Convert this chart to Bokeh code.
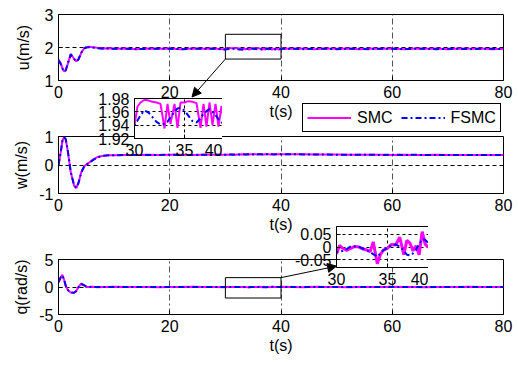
from bokeh.plotting import figure
from bokeh.models import (Range1d, FixedTicker, CustomJSTickFormatter, Legend, LegendItem,
                          Arrow, NormalHead, GridBox, ColumnDataSource)
from bokeh.embed import file_html
from bokeh.resources import INLINE

# ---------------- data ----------------
t = [0, 0.4, 0.7, 1.0, 1.3, 1.7, 2.2, 2.8, 3.2, 3.6, 4.1, 4.6, 5.0, 5.5, 6.1, 7.0, 8.0, 9.0, 10, 12,
     14, 16, 18, 20, 22, 24, 26, 28,
     30.0, 30.3, 30.6, 31.0, 31.4, 31.8, 32.2, 32.6, 33.0, 33.3, 33.6, 34.0, 34.3, 34.6, 35.0, 35.4,
     35.8, 36.2, 36.6, 36.9, 37.2, 37.5, 37.8, 38.1, 38.4, 38.7, 39.0, 39.3, 39.6, 40.0,
     42, 44, 46, 48, 50, 52, 54, 56, 58, 60, 62, 64, 66, 68, 70, 72, 74, 76, 78, 80]

u_smc = [1.63, 1.52, 1.38, 1.28, 1.30, 1.52, 1.80, 1.66, 1.58, 1.64, 1.84, 1.97, 2.01, 2.02, 2.01, 1.99,
         1.97, 1.98, 1.96, 1.97, 1.95, 1.97, 1.96, 1.97, 1.95, 1.97, 1.96, 1.97,
         1.940, 1.968, 1.974, 1.978, 1.977, 1.975, 1.974, 1.972, 1.935, 1.972, 1.942, 1.972, 1.936, 1.974,
         1.974, 1.976, 1.975, 1.973, 1.936, 1.972, 1.938, 1.974, 1.940, 1.972, 1.938, 1.969, 1.940, 1.970,
         1.935, 1.968,
         1.96, 1.97, 1.95, 1.97, 1.96, 1.97, 1.95, 1.97, 1.96, 1.97, 1.95, 1.97, 1.96, 1.97, 1.95, 1.97,
         1.96, 1.97, 1.95, 1.96]
u_fsmc = [1.62, 1.50, 1.36, 1.27, 1.31, 1.53, 1.79, 1.65, 1.57, 1.65, 1.85, 1.97, 2.00, 2.01, 2.00, 1.98,
          1.96, 1.97, 1.96, 1.96, 1.95, 1.96, 1.96, 1.96, 1.95, 1.96, 1.96, 1.96,
          1.940, 1.947, 1.955, 1.962, 1.959, 1.952, 1.945, 1.941, 1.942, 1.945, 1.952, 1.960, 1.965, 1.966,
          1.962, 1.954, 1.946, 1.944, 1.950, 1.957, 1.961, 1.964, 1.960, 1.955, 1.949, 1.944, 1.944, 1.946,
          1.954, 1.958,
          1.96, 1.95, 1.96, 1.96, 1.95, 1.96, 1.96, 1.95, 1.96, 1.96, 1.95, 1.96, 1.96, 1.95, 1.96, 1.96,
          1.95, 1.96, 1.96, 1.95]

w_smc = [0.00, 0.45, 0.85, 0.98, 0.90, 0.45, -0.25, -0.72, -0.81, -0.62, -0.25, -0.05, 0.02, 0.08, 0.17,
         0.28, 0.32, 0.34, 0.34, 0.35, 0.35, 0.36, 0.35, 0.36, 0.36, 0.35, 0.36, 0.36,
         0.36, 0.37, 0.36, 0.37, 0.37, 0.36, 0.37, 0.37, 0.38, 0.37, 0.37, 0.38, 0.37, 0.38, 0.38, 0.38,
         0.37, 0.38, 0.38, 0.37, 0.38, 0.38, 0.38, 0.37, 0.38, 0.38, 0.37, 0.38, 0.38, 0.38,
         0.38, 0.38, 0.37, 0.37, 0.37, 0.36, 0.36, 0.36, 0.36, 0.35, 0.36, 0.35, 0.35, 0.36, 0.35, 0.35,
         0.35, 0.35, 0.35, 0.35]
w_fsmc = [0.00, 0.44, 0.84, 0.97, 0.91, 0.46, -0.24, -0.71, -0.80, -0.63, -0.26, -0.06, 0.01, 0.07, 0.16,
          0.27, 0.32, 0.34, 0.34, 0.35, 0.35, 0.35, 0.35, 0.36, 0.35, 0.35, 0.36, 0.36,
          0.36, 0.36, 0.37, 0.37, 0.36, 0.37, 0.37, 0.37, 0.37, 0.38, 0.37, 0.38, 0.38, 0.38, 0.37, 0.38,
          0.38, 0.38, 0.37, 0.38, 0.38, 0.38, 0.37, 0.38, 0.38, 0.37, 0.38, 0.38, 0.38, 0.38,
          0.38, 0.37, 0.37, 0.37, 0.36, 0.36, 0.36, 0.36, 0.35, 0.36, 0.35, 0.36, 0.35, 0.35, 0.35, 0.35,
          0.35, 0.35, 0.35, 0.35]

q_smc = [0.9, 1.8, 2.2, 1.3, 0.2, -0.6, -1.0, -1.05, -0.7, 0.0, 0.6, 0.3, 0.05, 0.0, 0.05, -0.03, 0.02,
         0.0, 0.03, -0.02, 0.02, 0.0, -0.03, 0.02, 0.0, 0.03, -0.02, 0.01,
         -0.026, 0.006, -0.005, -0.013, -0.005, 0.002, 0.000, -0.008, -0.012, -0.018, 0.020, -0.065,
         -0.030, -0.012, -0.005, 0.010, 0.008, 0.038, -0.030, 0.026, 0.015, -0.015, 0.005, -0.030, 0.060,
         0.010, 0.000, 0.004, -0.012, 0.058,
         0.02, -0.03, 0.03, -0.02, 0.01, -0.03, 0.02, 0.0, -0.02, 0.03, -0.01, 0.02, -0.03, 0.01, 0.02,
         -0.02, 0.03, -0.01, 0.02, 0.0]
q_fsmc = [0.85, 1.75, 2.1, 1.35, 0.25, -0.55, -1.0, -1.05, -0.75, -0.05, 0.55, 0.32, 0.06, 0.0, 0.04,
          -0.02, 0.02, 0.0, 0.02, -0.02, 0.01, 0.0, -0.02, 0.02, 0.0, 0.02, -0.01, 0.01,
          -0.019, -0.018, -0.016, -0.008, 0.003, 0.002, 0.000, -0.006, -0.013, -0.020, -0.028, -0.038,
          -0.025, -0.012, -0.004, 0.008, 0.010, 0.002, -0.015, -0.030, -0.033, -0.025, -0.010, 0.010,
          0.030, 0.028, 0.015, 0.000, -0.006, -0.006,
          0.01, -0.02, 0.02, -0.01, 0.01, -0.02, 0.01, 0.0, -0.01, 0.02, -0.01, 0.01, -0.02, 0.01, 0.01,
          -0.01, 0.02, -0.01, 0.01, 0.0]

series_names = ["SMC", "FSMC"]
x_ticks = [0, 20, 40, 60, 80]
zoom_x = [30, 35, 40]

# ---------------- styling ----------------
FONT = "Liberation Sans"
FS = "16px"
SMC_COLOR = "#ff00ff"
FSMC_COLOR = "#0000ff"
FSMC_DASH = "6 3 2 3"

fmt = CustomJSTickFormatter(code="return String(Math.round(tick*100)/100)")


def style(p, label_standoff=5):
    for ax in (p.xaxis[0], p.yaxis[0]):
        ax.formatter = fmt
        ax.major_label_text_font = FONT
        ax.major_label_text_font_size = FS
        ax.major_label_text_color = "black"
        ax.axis_label_text_font = FONT
        ax.axis_label_text_font_size = FS
        ax.axis_label_text_font_style = "normal"
        ax.axis_label_text_color = "black"
        ax.major_tick_in = 4
        ax.major_tick_out = 0
        ax.minor_tick_line_color = None
        ax.axis_line_color = "black"
        ax.major_tick_line_color = "black"
        ax.major_label_standoff = 5
    p.xaxis[0].axis_label_standoff = 2
    p.yaxis[0].axis_label_standoff = label_standoff
    p.outline_line_color = "black"
    p.outline_line_alpha = 1
    p.outline_line_width = 1
    p.border_fill_alpha = 0
    p.background_fill_color = "white"


MAIN_LEFT, MAIN_FW, MAIN_RIGHT = 58, 445, 15
TOP_B, FH = 8, 66
INSET_SHIFT = 15   # extra left room the inset y-axis takes beyond its minimum border


def make_main(yr, yticks, ylabel, frame_top, bottom_border, label_standoff):
    p = figure(width=MAIN_LEFT + MAIN_FW + MAIN_RIGHT, height=TOP_B + FH + bottom_border,
               x_range=Range1d(0, 80), y_range=Range1d(*yr),
               output_backend="svg", toolbar_location=None,
               min_border_left=MAIN_LEFT, min_border_right=MAIN_RIGHT,
               min_border_top=TOP_B, min_border_bottom=bottom_border,
               x_axis_label="t(s)", y_axis_label=ylabel)
    p.xaxis.ticker = FixedTicker(ticks=x_ticks)
    p.yaxis.ticker = FixedTicker(ticks=yticks)
    style(p, label_standoff)
    p.xgrid.grid_line_color = "#555555"
    p.xgrid.grid_line_dash = "6 3 2 3"
    p.xgrid.grid_line_width = 1
    p.ygrid.grid_line_color = "black"
    p.ygrid.grid_line_dash = "4 3"
    p.ygrid.grid_line_width = 1
    p.margin = (frame_top - TOP_B, 0, 0, 0)
    return p


def make_inset(yr, yticks, frame_left, frame_top, fw, fh, border_left):
    p = figure(frame_width=fw, frame_height=fh,
               x_range=Range1d(30, 40), y_range=Range1d(*yr),
               output_backend="svg", toolbar_location=None,
               min_border_left=border_left, min_border_right=4,
               min_border_top=TOP_B, min_border_bottom=26)
    p.xaxis.ticker = FixedTicker(ticks=zoom_x)
    p.yaxis.ticker = FixedTicker(ticks=yticks)
    style(p)
    p.xaxis.axis_label = None
    p.yaxis.axis_label = None
    for g in (p.xgrid[0], p.ygrid[0]):
        g.grid_line_color = "black"
        g.grid_line_dash = "3 3"
        g.grid_line_width = 1
    p.margin = (frame_top - TOP_B, 0, 0, frame_left - border_left - INSET_SHIFT)
    return p


src = ColumnDataSource(dict(t=t, u_smc=u_smc, u_fsmc=u_fsmc, w_smc=w_smc, w_fsmc=w_fsmc,
                            q_smc=q_smc, q_fsmc=q_fsmc))


def draw(p, a, b, smc_w=2):
    r1 = p.line("t", a, source=src, line_color=SMC_COLOR, line_width=smc_w)
    r2 = p.line("t", b, source=src, line_color=FSMC_COLOR, line_width=2, line_dash=FSMC_DASH)
    return r1, r2


# main panels (u curves are drawn on the overlay, which shares this panel's scale)
U_RANGE = (1, 3)
p1 = make_main(U_RANGE, [1, 2, 3], "u(m/s)", 14, 55, 10)
p2 = make_main((-1, 1), [-1, 0, 1], "w(m/s)", 136, 46, 6)
draw(p2, "w_smc", "w_fsmc")
p3 = make_main((-5, 5), [-5, 0, 5], "q(rad/s)", 259, 44, 6)
draw(p3, "q_smc", "q_fsmc")

# zoom boxes
p1.quad(left=30, right=40, bottom=1.65, top=2.4, fill_alpha=0, line_color="black", line_width=1)
p3.quad(left=30, right=40, bottom=-2.0, top=1.7, fill_alpha=0, line_color="black", line_width=1)
p3.add_layout(Arrow(x_start=40, y_start=1.7, x_end=50, y_end=3.8, line_color="black", line_width=1,
                    end=NormalHead(size=9, fill_color="black", line_color="black")))

# insets
i1 = make_inset((1.92, 1.98), [1.92, 1.94, 1.96, 1.98], 133, 98, 100, 40, 42)
draw(i1, "u_smc", "u_fsmc")
i2 = make_inset((-0.08, 0.08), [-0.05, 0, 0.05], 337, 226, 102, 41, 44)
draw(i2, "q_smc", "q_fsmc", smc_w=3)

# transparent overlay sharing the top panel's scale, extended downward: u curves, arrow, legend
OV_FH = 121
scale = (U_RANGE[1] - U_RANGE[0]) / FH
ov = figure(frame_width=MAIN_FW, frame_height=OV_FH,
            x_range=Range1d(0, 80), y_range=Range1d(U_RANGE[1] - OV_FH * scale, U_RANGE[1]),
            output_backend="svg", toolbar_location=None,
            x_axis_location=None, y_axis_location=None,
            min_border_left=MAIN_LEFT, min_border_right=MAIN_RIGHT,
            min_border_top=TOP_B, min_border_bottom=2)
ov.grid.visible = False
ov.outline_line_color = None
ov.background_fill_alpha = 0
ov.border_fill_alpha = 0
ov.margin = (14 - TOP_B, 0, 0, 0)
l1, l2 = draw(ov, "u_smc", "u_fsmc")
ov.add_layout(Arrow(x_start=30, y_start=1.65, x_end=24, y_end=0.5, line_color="black", line_width=1,
                    end=NormalHead(size=9, fill_color="black", line_color="black")))
legend = Legend(items=[LegendItem(label=series_names[0], renderers=[l1]),
                       LegendItem(label=series_names[1], renderers=[l2])],
                location=(244, 3), orientation="horizontal",
                border_line_color="black", border_line_width=1, border_line_alpha=1,
                background_fill_color="white", background_fill_alpha=1,
                label_text_font=FONT, label_text_font_size=FS, label_text_color="black",
                glyph_width=44, glyph_height=19, label_height=19, label_standoff=6,
                spacing=8, padding=4, margin=0)
ov.add_layout(legend)

grid = GridBox(children=[(p1, 0, 0), (p2, 0, 0), (p3, 0, 0), (i1, 0, 0), (i2, 0, 0), (ov, 0, 0)])

open("out.html", "w").write(file_html(grid, INLINE))
